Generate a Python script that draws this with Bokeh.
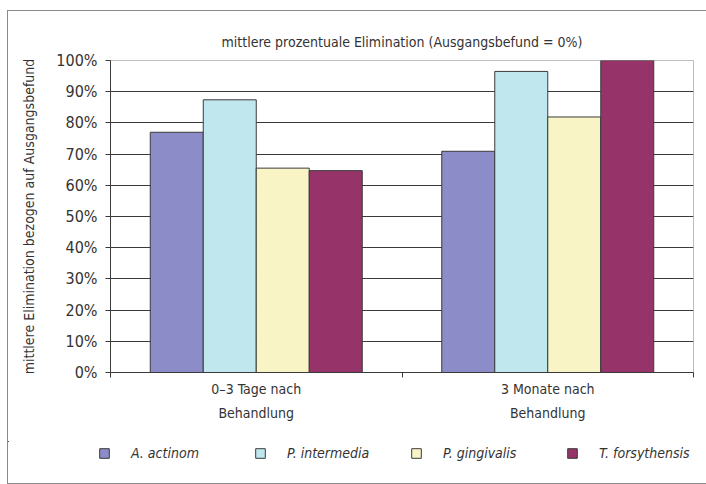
from bokeh.plotting import figure
from bokeh.layouts import column
from bokeh.models import Range1d, FixedTicker, PrintfTickFormatter, Legend, LegendItem, ColumnDataSource
from bokeh.transform import dodge
from bokeh.embed import file_html
from bokeh.resources import INLINE

# ---- data ----
categories = ["0–3 Tage nach\nBehandlung", "3 Monate nach\nBehandlung"]
species = ["A. actinom", "P. intermedia", "P. gingivalis", "T. forsythensis"]
a_actinom = [77.0, 70.9]
p_intermedia = [87.4, 96.5]
p_gingivalis = [65.5, 81.9]
t_forsythensis = [64.7, 100.0]
y_ticks = [0, 10, 20, 30, 40, 50, 60, 70, 80, 90, 100]
title_text = "mittlere prozentuale Elimination (Ausgangsbefund = 0%)"
y_label = "mittlere Elimination bezogen auf Ausgangsbefund"

series = [a_actinom, p_intermedia, p_gingivalis, t_forsythensis]
colors = ["#8C8CC8", "#C0E6EE", "#F8F4C6", "#963469"]

FONT = "DejaVu Sans Condensed"
TXT = "#333333"
EDGE = "#3a3a3a"

n_cat = len(categories)
centers = [i + 0.5 for i in range(n_cat)]
bar_w = 1.0 / 5.5

p = figure(width=698, height=430, x_range=Range1d(0, n_cat), y_range=Range1d(y_ticks[0], y_ticks[-1]),
           output_backend="svg", toolbar_location=None,
           min_border_left=102, min_border_right=13, min_border_top=49, min_border_bottom=69)
p.background_fill_color = "white"
p.border_fill_color = "white"
p.outline_line_color = "#bdbdbd"
p.outline_line_width = 1

p.title.text = title_text
p.title.align = "center"
p.title.text_font = FONT
p.title.text_font_size = "14px"
p.title.text_font_style = "normal"
p.title.text_color = TXT
p.title.standoff = 22

data = {"x": centers}
for name, vals in zip(species, series):
    data[name] = vals
src = ColumnDataSource(data)

for k, (name, col) in enumerate(zip(species, colors)):
    off = (k - (len(species) - 1) / 2) * bar_w
    p.vbar(x=dodge("x", off, range=p.x_range), top=name, width=bar_w, bottom=0, source=src,
           fill_color=col, line_color=EDGE, line_width=1)

# axes
p.xaxis.ticker = FixedTicker(ticks=centers, minor_ticks=list(range(n_cat + 1)))
p.xaxis.major_label_overrides = {c: lab for c, lab in zip(centers, categories)}
p.xaxis.major_tick_out = 0
p.xaxis.major_tick_in = 0
p.xaxis.minor_tick_out = 5
p.xaxis.minor_tick_in = 0
p.xaxis.minor_tick_line_color = EDGE
p.xaxis.axis_line_color = EDGE
p.xaxis.major_label_text_font = FONT
p.xaxis.major_label_text_font_size = "14px"
p.xaxis.major_label_text_color = TXT
p.xaxis.major_label_text_line_height = 1.5
p.xaxis.major_label_standoff = 3

p.yaxis.ticker = FixedTicker(ticks=y_ticks, minor_ticks=[])
p.yaxis.formatter = PrintfTickFormatter(format="%d%%")
p.yaxis.major_tick_out = 5
p.yaxis.major_tick_in = 0
p.yaxis.major_tick_line_color = EDGE
p.yaxis.axis_line_color = EDGE
p.yaxis.major_label_text_font = FONT
p.yaxis.major_label_text_font_size = "16px"
p.yaxis.major_label_text_color = TXT
p.yaxis.major_label_standoff = 8
p.yaxis.axis_label = y_label
p.yaxis.axis_label_text_font = FONT
p.yaxis.axis_label_text_font_size = "14px"
p.yaxis.axis_label_text_font_style = "normal"
p.yaxis.axis_label_text_color = TXT
p.yaxis.axis_label_standoff = 16

p.xgrid.visible = False
p.ygrid.ticker = FixedTicker(ticks=y_ticks[1:-1])
p.ygrid.grid_line_color = EDGE
p.ygrid.grid_line_width = 1

# legend strip (separate figure so the legend is not clipped by the chart frame);
# its bars use the same data but lie far outside its ranges, so only the legend shows
lf = figure(width=698, height=42, x_range=Range1d(1000, 1001), y_range=Range1d(-1001, -1000),
            output_backend="svg", toolbar_location=None,
            x_axis_location=None, y_axis_location=None,
            min_border_left=0, min_border_right=0, min_border_top=0, min_border_bottom=0)
lf.outline_line_color = None
lf.xgrid.visible = False
lf.ygrid.visible = False
lf.background_fill_alpha = 0
items = []
for k, (name, col) in enumerate(zip(species, colors)):
    off = (k - (len(species) - 1) / 2) * bar_w
    r = lf.vbar(x=dodge("x", off, range=lf.x_range), top=name, width=bar_w, bottom=0, source=src,
                fill_color=col, line_color=EDGE, line_width=1)
    items.append(LegendItem(label=name, renderers=[r]))

aligned = True
try:
    lf.frame_align = False
    aligned = False
except Exception:
    aligned = True

legend = Legend(items=items, orientation="horizontal",
                location=(0, 22) if aligned else (90, 22),
                glyph_width=12, glyph_height=12, label_standoff=21,
                label_width=98 if not aligned else 96, spacing=25,
                border_line_color=None, background_fill_alpha=0,
                padding=0 if aligned else 4, margin=0,
                label_text_font=FONT, label_text_font_style="italic", label_text_font_size="14px",
                label_text_color=TXT)
lf.add_layout(legend, "center")

layout = column(p, lf, spacing=0)
layout.styles = {"margin-left": "7px", "margin-top": "10px",
                 "border-left": "1px solid #8a8a8a", "border-top": "1px solid #8a8a8a",
                 "border-bottom": "1px solid #8a8a8a"}

open("out.html", "w").write(file_html(layout, INLINE))
